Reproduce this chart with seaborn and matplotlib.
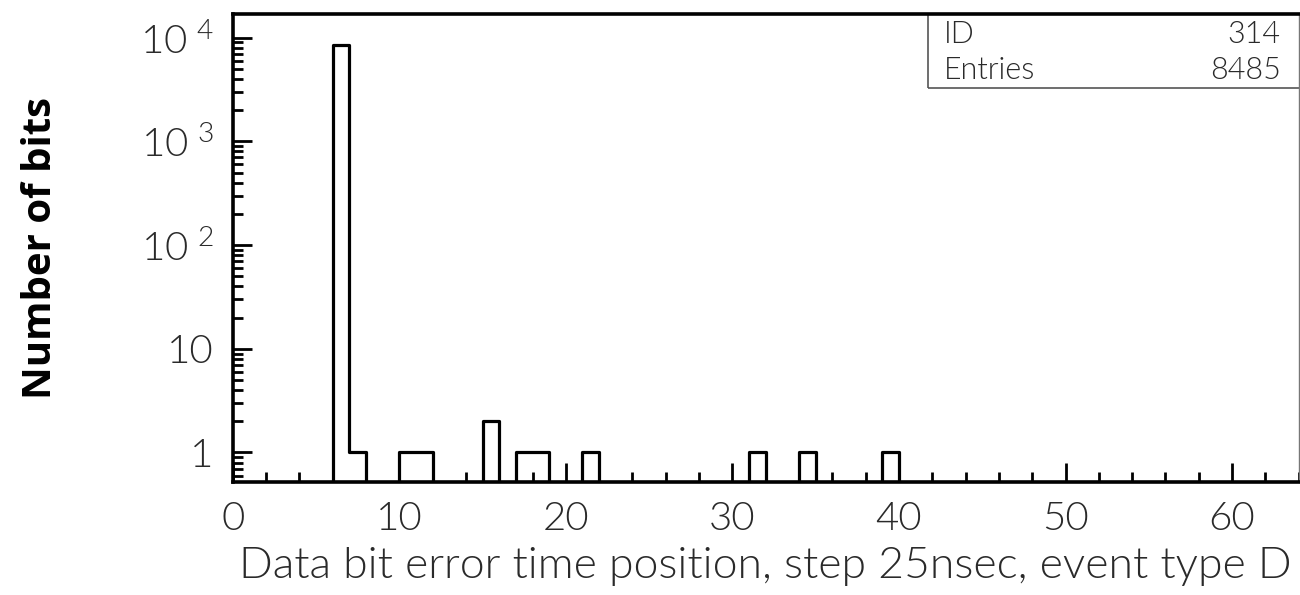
import numpy as np
import pandas as pd
import seaborn as sns
import matplotlib.pyplot as plt
from matplotlib.patches import Rectangle
from matplotlib.ticker import FixedLocator, LogLocator, FuncFormatter, MultipleLocator

# bin left edges (step 1) and counts of the non-empty bins
positions = [6, 7, 10, 11, 15, 17, 18, 21, 31, 34, 39]
counts = [8474, 1, 1, 1, 2, 1, 1, 1, 1, 1, 1]
hist_id = 314
entries = 8485
x_ticks = [0, 10, 20, 30, 40, 50, 60]
y_ticks = [1, 10, 100, 1000, 10000]

df = pd.DataFrame({"position": [p + 0.5 for p in positions], "bits": counts})

sns.set_style("white")
plt.rcParams["font.family"] = ["Lato", "DejaVu Sans"]
plt.rcParams["mathtext.default"] = "regular"
TXT = "#2a2a2a"
W = 300  # Lato Light

fig = plt.figure(figsize=(13, 5.95), dpi=100)
ax = fig.add_axes([0.179, 0.19, 0.82, 0.787])

sns.histplot(data=df, x="position", weights="bits", binwidth=1, binrange=(0, 64),
             element="step", fill=False, color="black", linewidth=2.3, ax=ax)

ax.set_yscale("log")
ax.set_xlim(0, 64)
ax.set_ylim(0.52, 17000)

# ticks: inward, PAW style
ax.xaxis.set_major_locator(FixedLocator(x_ticks))
ax.xaxis.set_minor_locator(MultipleLocator(2))
ax.yaxis.set_major_locator(FixedLocator(y_ticks))
ax.yaxis.set_minor_locator(LogLocator(base=10, subs=np.arange(2, 10)))
ax.yaxis.set_minor_formatter(FuncFormatter(lambda v, p: ""))


def fmt_y(v, pos):
    if v == 1:
        return "1"
    if v == 10:
        return "10"
    return r"$10^{\ %d}$" % int(round(np.log10(v)))


ax.yaxis.set_major_formatter(FuncFormatter(fmt_y))
ax.tick_params(axis="both", which="both", direction="in", width=2, colors="black",
               bottom=True, left=True, top=False, right=False)
ax.tick_params(axis="both", which="major", length=14, pad=14,
               labelsize=29, labelcolor=TXT)
ax.tick_params(axis="both", which="minor", length=7)
for lab in ax.get_xticklabels() + ax.get_yticklabels():
    lab.set_fontweight(W)

for side in ["left", "bottom", "top"]:
    ax.spines[side].set_linewidth(2.6)
    ax.spines[side].set_color("black")
ax.spines["right"].set_linewidth(1)
ax.spines["right"].set_color("#777777")

ax.set_xlabel("Data bit error time position, step 25nsec, event type D",
              fontsize=32, fontweight=W, color=TXT, labelpad=7)
ax.set_ylabel("Number of bits", fontsize=29, fontweight="bold", color="black",
              family=["Open Sans", "DejaVu Sans"])
ax.yaxis.set_label_coords(-0.162, 0.5)

# stats box
ax.add_patch(Rectangle((0.652, 0.842), 0.36, 0.158, transform=ax.transAxes,
                       fill=False, edgecolor="#555555", linewidth=1.2, clip_on=False))
stat_kw = dict(transform=ax.transAxes, fontsize=22, fontweight=W,
               color=TXT, va="center")
ax.text(0.667, 0.956, "ID", ha="left", **stat_kw)
ax.text(0.983, 0.956, str(hist_id), ha="right", **stat_kw)
ax.text(0.667, 0.878, "Entries", ha="left", **stat_kw)
ax.text(0.983, 0.878, str(entries), ha="right", **stat_kw)

fig.savefig("out.png", dpi=100)
